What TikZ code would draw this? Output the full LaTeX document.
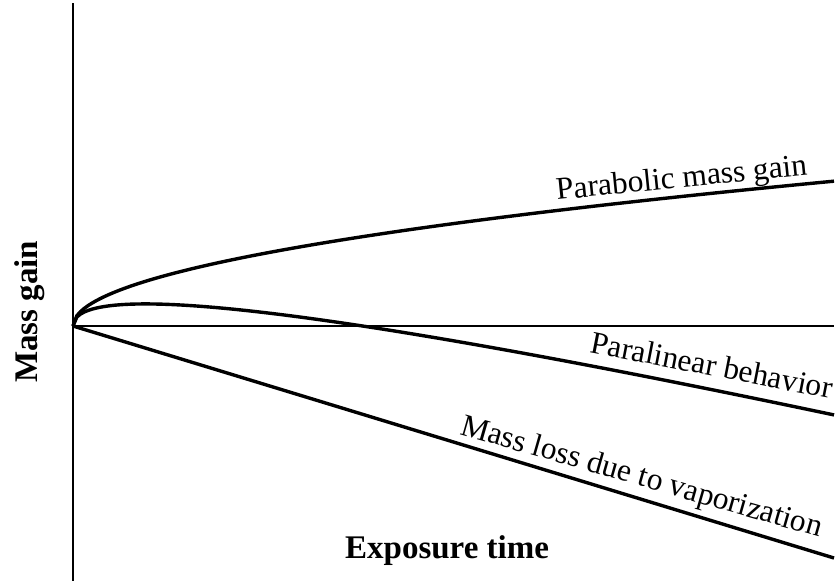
\documentclass[tikz,border=0pt]{standalone}
\usepackage{fontspec}
\setmainfont{Liberation Serif}
\begin{document}
\begin{tikzpicture}[x=1pt,y=-1pt,
  axis/.style={line width=2.4pt},
  curve/.style={line width=3.4pt},
  lbl/.style={font=\fontsize{31.5}{36}\selectfont, inner sep=0pt, anchor=base west},
  axlbl/.style={font=\fontsize{33}{38}\selectfont\bfseries, inner sep=0pt, anchor=base west}]
\useasboundingbox (0,0) rectangle (840,584);
\coordinate (O) at (73,326);
\coordinate (ytop) at (73,3);
\coordinate (ybot) at (73,581);
\coordinate (xend) at (834,326);
\coordinate (lend) at (834,558);
\draw[axis] (ytop) -- (ybot);
\draw[axis] (O) -- (xend);
\draw[curve] plot[domain=0:761, samples=200] ({73+\x},{326-5.25*sqrt(\x)});
\draw[curve] plot[domain=0:761, samples=200] ({73+\x},{326-5.19*sqrt(\x)+0.305*\x});
\draw[curve] (O) -- (lend);
\node[lbl, rotate=5.8] (para) at (557,200) {Parabolic mass gain};
\node[lbl, rotate=-11] (plin) at (589,352) {Paralinear behavior};
\node[lbl, rotate=-16] (loss) at (459,434) {Mass loss due to vaporization};
\node[axlbl] (xl) at (345,558) {Exposure time};
\node[axlbl, rotate=90] (yl) at (37,383) {Mass gain};
\end{tikzpicture}
\end{document}
